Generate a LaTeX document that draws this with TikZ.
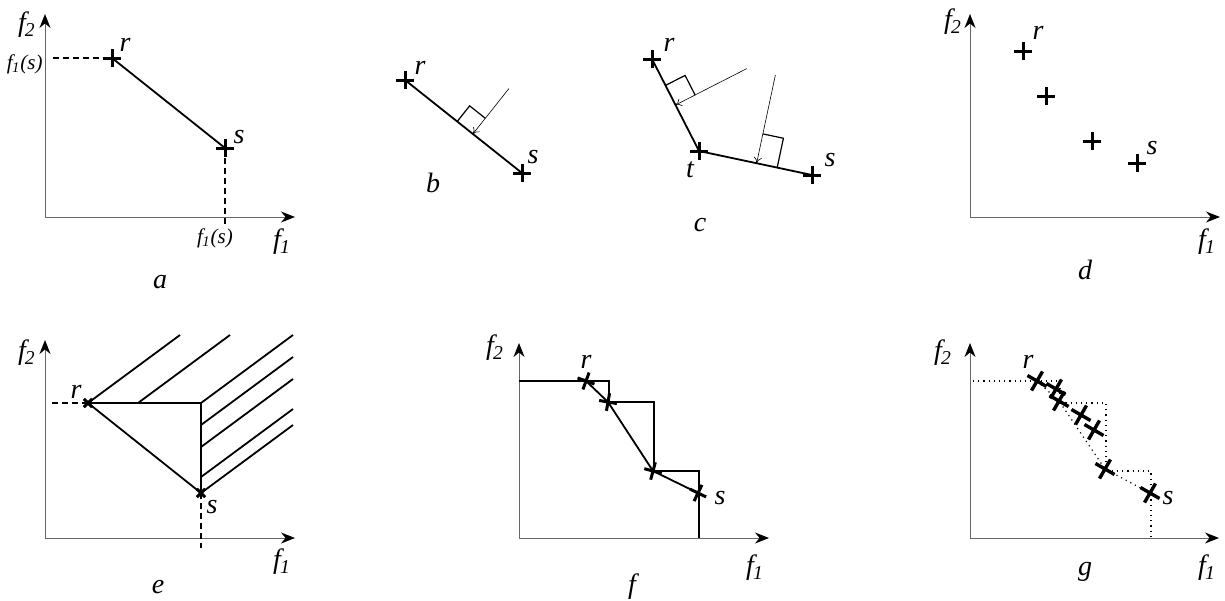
\documentclass[tikz,border=0pt]{standalone}
\usepackage{fontspec}
\setmainfont{Liberation Serif}[ItalicFont=Liberation Serif Italic]
\usetikzlibrary{arrows.meta,calc}
\newcommand{\fsub}[1]{\textit{f}\textsubscript{\kern-0.05em\textit{#1}}}

\begin{document}
\begin{tikzpicture}[x=0.5pt,y=-0.5pt,
  axis/.style={draw=black!60, line width=0.5pt, -{Stealth[length=7pt,width=5.5pt,color=black]}},
  seg/.style={line width=0.9pt},
  ray/.style={line width=0.3pt, -{To[length=3pt,width=4pt]}},
  guide/.style={line width=0.6pt, dash pattern=on 3pt off 2pt},
  stair/.style={line width=0.6pt, dotted},
  lbl/.style={font=\fontsize{14}{16}\selectfont\itshape, inner sep=0pt},
  small/.style={font=\fontsize{10.5}{12}\selectfont\itshape, inner sep=0pt},
  crs/.pic={\draw[line width=1.5pt] (-9,0) -- (9,0) (0,-9) -- (0,9);},
  bigcrs/.pic={\draw[line width=1.7pt] (-11,0) -- (11,0) (0,-11) -- (0,11);}]
\useasboundingbox (0,0) rectangle (1225,600);

% axes
\foreach \p/\ox/\oy/\yt/\xe in {a/45/217/14/295, d/970/217/14/1220,
                                e/45/538/340/295, f/519/538/343/769, g/970/538/343/1219}
  { \coordinate (O\p) at (\ox,\oy);
    \coordinate (Y\p) at (\ox,\yt);
    \coordinate (X\p) at (\xe,\oy);
    \draw[axis] (O\p) -- (Y\p);
    \draw[axis] (O\p) -- (X\p); }
\foreach \p/\ux/\uy/\vx/\vy in {a/27/25/282/242, d/953/22/1207/242, e/27/353/282/562,
                                f/495/348/755/568, g/943/353/1207/568}
  { \node[lbl] (ft\p) at (\ux,\uy) {\fsub{2}};
    \node[lbl] (fo\p) at (\vx,\vy) {\fsub{1}}; }
\foreach \p/\x/\y in {a/160/282, b/433/183, c/700/225, d/1085/270, e/158/587, f/632/587, g/1085/572}
  { \node[lbl] (cap\p) at (\x,\y) {\p}; }

% a
\coordinate (aR) at (112,58);
\coordinate (aS) at (225,148);
\coordinate (aRl) at (53,58);
\coordinate (aSd) at (225,224);
\draw[guide] (aRl) -- (aR);
\draw[guide] (aS) -- (aSd);
\draw[seg] (aR) -- (aS);
\pic at (aR) {crs};
\pic at (aS) {crs};
\node[small, anchor=east] (aFl) at (43,64) {\fsub{1}\textit{(s)}};
\node[small] (aFb) at (215,238) {\fsub{1}\textit{(s)}};
\node[lbl] (aRt) at (125,45) {r};
\node[lbl] (aSt) at (239,137) {s};

% b
\coordinate (bR) at (405,80);
\coordinate (bS) at (522,173);
\coordinate (bF) at ($(bR)!0.58!(bS)$);
\coordinate (bA) at ($(bF)!29pt!90:(bS)$);
\coordinate (bM1) at ($(bF)!10pt!(bR)$);
\coordinate (bM2) at ($(bM1)!10pt!-90:(bR)$);
\coordinate (bM3) at ($(bF)!10pt!90:(bS)$);
\draw[seg] (bR) -- (bS);
\draw[ray] (bA) -- (bF);
\draw[line width=0.6pt] (bM1) -- (bM2) -- (bM3);
\pic at (bR) {crs};
\pic at (bS) {crs};
\node[lbl] (bRt) at (420,68) {r};
\node[lbl] (bSt) at (533,157) {s};

% c
\coordinate (cR) at (652,59);
\coordinate (cT) at (699,151);
\coordinate (cS) at (812,175);
\coordinate (cF1) at ($(cR)!0.5!(cT)$);
\coordinate (cA1) at ($(cF1)!40pt!90:(cT)$);
\coordinate (cM1) at ($(cF1)!11pt!(cR)$);
\coordinate (cM2) at ($(cM1)!11pt!-90:(cR)$);
\coordinate (cM3) at ($(cF1)!11pt!90:(cT)$);
\coordinate (cF2) at ($(cT)!0.51!(cS)$);
\coordinate (cA2) at ($(cF2)!45pt!90:(cS)$);
\coordinate (cN1) at ($(cF2)!10.5pt!(cS)$);
\coordinate (cN2) at ($(cN1)!15pt!90:(cS)$);
\coordinate (cN3) at ($(cF2)!15pt!90:(cS)$);
\draw[seg] (cR) -- (cT) -- (cS);
\draw[ray] (cA1) -- (cF1);
\draw[ray] (cA2) -- (cF2);
\draw[line width=0.6pt] (cM1) -- (cM2) -- (cM3);
\draw[line width=0.6pt] (cN1) -- (cN2) -- (cN3);
\pic at (cR) {crs};
\pic at (cT) {crs};
\pic at (cS) {crs};
\node[lbl] (cRt) at (669,45) {r};
\node[lbl] (cTt) at (690,170) {t};
\node[lbl] (cSt) at (830,160) {s};

% d
\foreach \i/\x/\y in {1/1023/51, 2/1046/96, 3/1092/141, 4/1137/163}
  { \coordinate (dP\i) at (\x,\y);
    \pic at (dP\i) {crs}; }
\node[lbl] (dRt) at (1038,33) {r};
\node[lbl] (dSt) at (1152,148) {s};

% e
\coordinate (eR) at (88,403);
\coordinate (eK) at (201,403);
\coordinate (eS) at (201,493);
\coordinate (eRl) at (52,403);
\coordinate (eSd) at (201,548);
\foreach \x/\y in {88/403, 138/403, 201/403, 201/425, 201/447, 201/477, 201/493}
  \draw[seg] (\x,\y) -- ++(92,-68);
\draw[seg] (eR) -- (eK) -- (eS) -- cycle;
\draw[guide] (eRl) -- (eR);
\draw[guide] (eS) -- (eSd);
\pic[rotate=45, scale=0.65] at (eR) {crs};
\pic[rotate=45, scale=0.65] at (eS) {crs};
\node[lbl] (eRt) at (76,392) {r};
\node[lbl] (eSt) at (212,507) {s};

% f
\coordinate (fQ0) at (519,381);
\coordinate (fQ1) at (609,402);
\coordinate (fQ2) at (654,471);
\coordinate (fQ3) at (699,538);
\draw[seg] (fQ0) -| (fQ1) -| (fQ2) -| (fQ3);
\foreach \i/\x/\y in {1/586/381, 2/608/402, 3/653/471, 4/698/493}
  \coordinate (fP\i) at (\x,\y);
\draw[seg] (fP1) -- (fP2) -- (fP3) -- (fP4);
\foreach \i/\a in {1/-20, 2/-10, 3/-15, 4/-26}
  \pic[rotate=\a] at (fP\i) {crs};
\node[lbl] (fRt) at (586,362) {r};
\node[lbl] (fSt) at (720,498) {s};

% g
\coordinate (gQ0) at (973,381);
\coordinate (gQ1) at (1060,403);
\coordinate (gQ2) at (1106,471);
\coordinate (gQ3) at (1151,538);
\draw[stair] (gQ0) -| (gQ1) -| (gQ2) -| (gQ3);
\foreach \i/\x/\y in {1/1037/381, 2/1059/401, 3/1105/469, 4/1150/493}
  \coordinate (gP\i) at (\x,\y);
\draw[stair] (gP1) -- (gP2) -- (gP3) -- (gP4);
\foreach \x/\y in {1037/381, 1056/389, 1059/401, 1081/415, 1094/430, 1105/469, 1150/493}
  \pic[rotate=-30] at (\x,\y) {bigcrs};
\node[lbl] (gRt) at (1028,362) {r};
\node[lbl] (gSt) at (1168,498) {s};
\end{tikzpicture}
\end{document}
